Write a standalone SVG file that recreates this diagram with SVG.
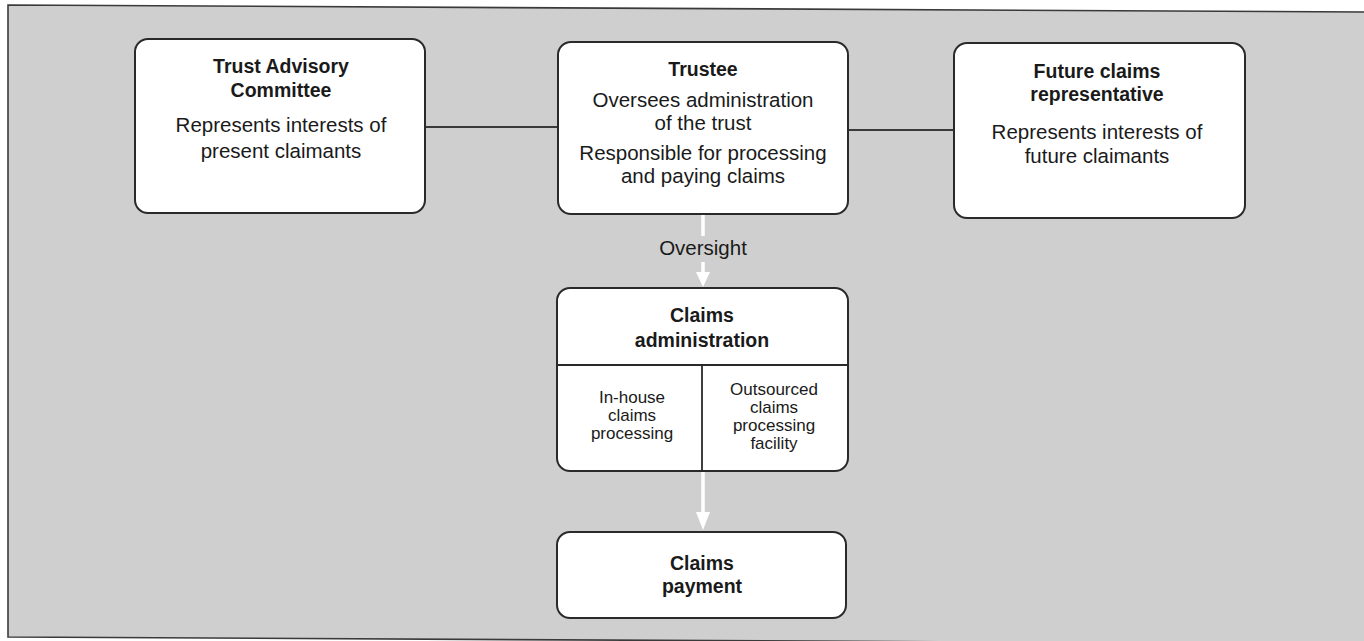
<svg xmlns="http://www.w3.org/2000/svg" width="1364" height="641" viewBox="0 0 1364 641">
  <style>
    .box { fill: #ffffff; stroke: #2a2a2a; stroke-width: 2; }
    .div { stroke: #2a2a2a; stroke-width: 1.8; fill: none; }
    .link { stroke: #3a3a3a; stroke-width: 2; fill: none; }
    .flow { stroke: #ffffff; stroke-width: 3.5; fill: none; }
    .head { fill: #ffffff; }
    text { font-family: "Liberation Sans", Arial, Helvetica, sans-serif; fill: #1a1a1a; text-anchor: middle; }
    .t { font-size: 19.5px; font-weight: bold; }
    .d { font-size: 20.5px; }
    .s { font-size: 17px; }
  </style>

  <!-- page and frame -->
  <rect x="0" y="0" width="1364" height="641" fill="#ffffff"/>
  <polygon points="8,5 1364,12 1364,644 8,637" fill="#cfcfcf"/>
  <path d="M1364,12 L8,5 L8,637 L1364,644" fill="none" stroke="#3a3a3a" stroke-width="1.6"/>

  <!-- connectors -->
  <g id="connectors">
    <line class="link" x1="425" y1="127" x2="558" y2="127"/>
    <line class="link" x1="848" y1="130" x2="954" y2="130"/>
    <line class="flow" x1="703" y1="215" x2="703" y2="236"/>
    <line class="flow" x1="703" y1="262" x2="703" y2="274"/>
    <polygon class="head" points="696,272 710,272 703,287"/>
    <line class="flow" x1="703" y1="471" x2="703" y2="514"/>
    <polygon class="head" points="696,512 710,512 703,530"/>
    <text class="d" x="703" y="255">Oversight</text>
  </g>

  <g id="trust-advisory-committee">
    <rect class="box" x="135" y="39" width="290" height="174" rx="13"/>
    <text class="t" x="281" y="73">Trust Advisory</text>
    <text class="t" x="281" y="97">Committee</text>
    <text class="d" x="281" y="132">Represents interests of</text>
    <text class="d" x="281" y="158">present claimants</text>
  </g>

  <g id="trustee">
    <rect class="box" x="558" y="42" width="290" height="172" rx="13"/>
    <text class="t" x="703" y="76">Trustee</text>
    <text class="d" x="703" y="107">Oversees administration</text>
    <text class="d" x="703" y="130">of the trust</text>
    <text class="d" x="703" y="160">Responsible for processing</text>
    <text class="d" x="703" y="183">and paying claims</text>
  </g>

  <g id="future-claims-representative">
    <rect class="box" x="954" y="43" width="291" height="175" rx="13"/>
    <text class="t" x="1097" y="78">Future claims</text>
    <text class="t" x="1097" y="101">representative</text>
    <text class="d" x="1097" y="139">Represents interests of</text>
    <text class="d" x="1097" y="163">future claimants</text>
  </g>

  <g id="claims-administration">
    <rect class="box" x="557" y="288" width="291" height="183" rx="13"/>
    <line class="div" x1="557" y1="365" x2="848" y2="365"/>
    <line class="div" x1="702" y1="365" x2="702" y2="471"/>
    <text class="t" x="702" y="322">Claims</text>
    <text class="t" x="702" y="347">administration</text>
    <g id="in-house-processing">
      <text class="s" x="632" y="403">In-house</text>
      <text class="s" x="632" y="421">claims</text>
      <text class="s" x="632" y="439">processing</text>
    </g>
    <g id="outsourced-processing">
      <text class="s" x="774" y="395">Outsourced</text>
      <text class="s" x="774" y="413">claims</text>
      <text class="s" x="774" y="431">processing</text>
      <text class="s" x="774" y="449">facility</text>
    </g>
  </g>

  <g id="claims-payment">
    <rect class="box" x="557" y="532" width="289" height="86" rx="13"/>
    <text class="t" x="702" y="570">Claims</text>
    <text class="t" x="702" y="593">payment</text>
  </g>
</svg>
